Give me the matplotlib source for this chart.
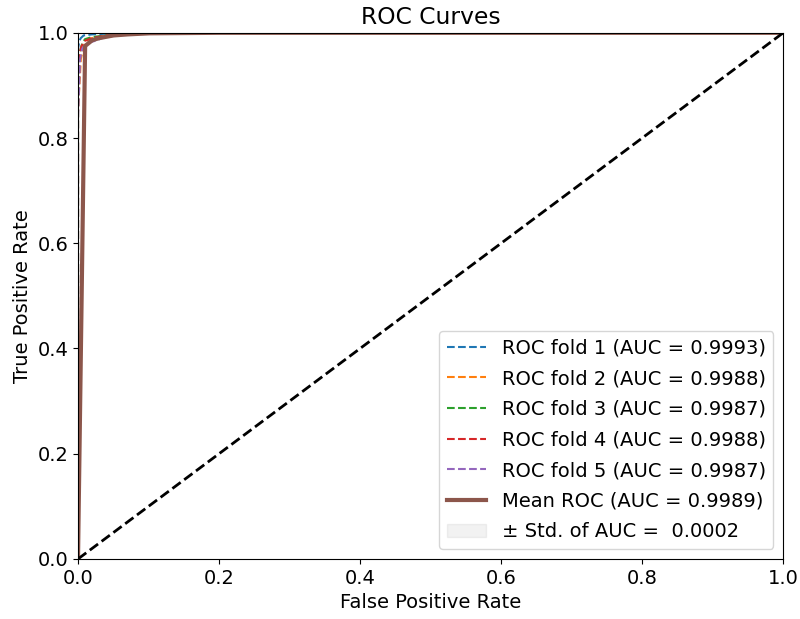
import matplotlib
matplotlib.use("Agg")
import matplotlib.pyplot as plt

# ROC points for each fold
fold_fpr = [
    [0.0, 0.0, 0.0, 0.002, 0.004, 0.008, 0.02, 0.05, 0.1, 1.0],
    [0.0, 0.0, 0.004, 0.008, 0.012, 0.02, 0.04, 0.08, 0.15, 1.0],
    [0.0, 0.0, 0.002, 0.006, 0.01, 0.02, 0.04, 0.08, 0.15, 1.0],
    [0.0, 0.0, 0.002, 0.005, 0.01, 0.02, 0.04, 0.08, 0.15, 1.0],
    [0.0, 0.0, 0.003, 0.006, 0.012, 0.025, 0.04, 0.08, 0.15, 1.0],
]
fold_tpr = [
    [0.0, 0.90, 0.97, 0.985, 0.99, 0.995, 0.997, 0.999, 1.0, 1.0],
    [0.0, 0.85, 0.95, 0.975, 0.985, 0.99, 0.995, 0.998, 1.0, 1.0],
    [0.0, 0.86, 0.96, 0.98, 0.988, 0.992, 0.995, 0.998, 1.0, 1.0],
    [0.0, 0.88, 0.96, 0.975, 0.985, 0.99, 0.995, 0.998, 1.0, 1.0],
    [0.0, 0.84, 0.95, 0.97, 0.98, 0.985, 0.993, 0.998, 1.0, 1.0],
]
fold_auc = [0.9993, 0.9988, 0.9987, 0.9988, 0.9987]

mean_fpr = [0.0, 0.0101, 0.0202, 0.0303, 0.0505, 0.0707, 0.101, 0.2, 1.0]
mean_tpr = [0.0, 0.975, 0.986, 0.99, 0.995, 0.997, 0.999, 1.0, 1.0]
mean_auc = 0.9989
std_auc = 0.0002
tpr_lo = [0.0, 0.972, 0.984, 0.988, 0.994, 0.996, 0.998, 1.0, 1.0]
tpr_hi = [0.0, 0.978, 0.988, 0.992, 0.996, 0.998, 1.0, 1.0, 1.0]

plt.rcParams['font.size'] = 14
fig = plt.figure(figsize=(8, 6.19), dpi=100)
ax = fig.add_axes([0.0975, 0.097, 0.8815, 0.85])

for i in range(5):
    ax.plot(fold_fpr[i], fold_tpr[i], '--', lw=1.5,
            label='ROC fold %d (AUC = %0.4f)' % (i + 1, fold_auc[i]))

ax.plot(mean_fpr, mean_tpr, color='#8c564b', lw=3,
        label='Mean ROC (AUC = %0.4f)' % mean_auc)
ax.fill_between(mean_fpr, tpr_lo, tpr_hi, color='grey', alpha=0.1,
                label='± Std. of AUC =  %0.4f' % std_auc)
ax.plot([0, 1], [0, 1], 'k--', lw=2)

ax.set_xlim(0, 1)
ax.set_ylim(0, 1)
ax.set_xlabel('False Positive Rate')
ax.set_ylabel('True Positive Rate')
ax.set_title('ROC Curves')
ax.legend(loc='lower right', labelspacing=0.6)

fig.savefig('out.png', dpi=100)
